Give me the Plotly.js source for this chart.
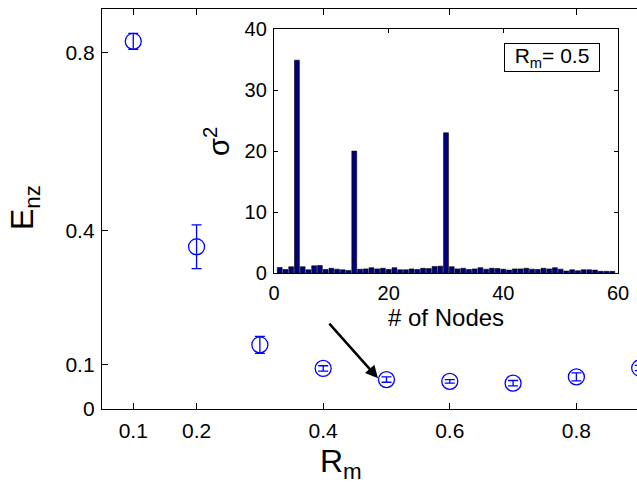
<!DOCTYPE html>
<html>
<head>
<meta charset="utf-8">
<script src="https://cdn.plot.ly/plotly-3.0.1.min.js"></script>
<style>html,body{margin:0;padding:0;background:#fff;overflow:hidden;}#chart{width:645px;height:489px;}</style>
</head>
<body>
<div id="chart"></div>
<script>
// Main plot data: Rm vs E_nz with error bars
const rmValues = [0.1, 0.2, 0.3, 0.4, 0.5, 0.6, 0.7, 0.8, 0.9];
const enzValues = [0.825, 0.364, 0.144, 0.091, 0.066, 0.062, 0.058, 0.072, 0.092];
const enzErrors = [0.018, 0.049, 0.019, 0.006, 0.006, 0.004, 0.006, 0.009, 0.006];
const mainXTicks = [0.1, 0.2, 0.4, 0.6, 0.8];
const mainXTickText = ['0.1', '0.2', '0.4', '0.6', '0.8'];
const mainYTicks = [0, 0.1, 0.4, 0.8];
const mainYTickText = ['0', '0.1', '0.4', '0.8'];

// Inset data: variance per node for Rm = 0.5
const nodeIndex = [];
for (let i = 1; i <= 59; i++) nodeIndex.push(i);
const sigma2Values = [
  0.93, 0.6, 1.05, 34.9, 1.05, 0.55, 1.2, 1.25, 0.6, 0.8,
  0.65, 0.55, 0.45, 20.0, 0.65, 0.7, 0.9, 0.7, 0.8, 0.6,
  0.9, 0.55, 0.55, 0.7, 0.6, 0.8, 0.75, 1.1, 1.15, 23.0,
  1.05, 0.7, 0.8, 0.6, 0.7, 0.9, 0.65, 0.8, 0.75, 0.65,
  0.5, 0.7, 0.7, 0.8, 0.65, 0.6, 0.8, 0.7, 0.9, 0.65,
  0.35, 0.55, 0.4, 0.55, 0.55, 0.5, 0.3, 0.3, 0.3
];
const insetXTicks = [0, 20, 40, 60];
const insetYTicks = [0, 10, 20, 30, 40];

const FONT = 'Liberation Sans, Arial, Helvetica, sans-serif';

// plot area spans 102..645 px (543 px); page window cuts at 637
const traces = [
  {
    type: 'scatter', mode: 'markers',
    x: rmValues, y: enzValues,
    xaxis: 'x', yaxis: 'y',
    cliponaxis: false,
    marker: {symbol: 'circle-open', size: 16, color: '#0000ff', line: {width: 1.3, color: '#0000ff'}},
    error_y: {type: 'data', array: enzErrors, visible: true, color: '#0000ff', thickness: 1.3, width: 5},
    showlegend: false, hoverinfo: 'x+y'
  },
  {
    type: 'bar',
    x: nodeIndex, y: sigma2Values,
    xaxis: 'x2', yaxis: 'y2',
    width: 0.85,
    marker: {color: '#00007f', line: {color: '#000000', width: 0.6}},
    showlegend: false
  }
];

const axisCommon = {
  showgrid: false, zeroline: false, showline: true, linecolor: '#000', linewidth: 1.2,
  ticks: 'inside', tickcolor: '#000', tickwidth: 1, color: '#000'
};

// inset domain in paper fraction of the 543 px plot width
const W = 543;
const insetX0 = (274 - 102) / W, insetX1 = (618 - 102) / W;

const layout = {
  width: 645, height: 489,
  margin: {l: 102, r: 0, t: 9, b: 80, pad: 0},
  paper_bgcolor: '#fff', plot_bgcolor: '#fff',
  font: {family: FONT, color: '#000'},
  showlegend: false,
  bargap: 0,
  xaxis: Object.assign({}, axisCommon, {
    domain: [0, 1], range: [0.0506, 0.9084], mirror: 'ticks',
    tickvals: mainXTicks, ticktext: mainXTickText, ticklen: 6,
    tickfont: {size: 21, family: FONT}, ticklabelstandoff: 3, anchor: 'y'
  }),
  yaxis: Object.assign({}, axisCommon, {
    domain: [0, 1], range: [0, 0.8975], mirror: false,
    tickvals: mainYTicks, ticktext: mainYTickText, ticklen: 6,
    tickfont: {size: 21, family: FONT}, ticklabelstandoff: 2, anchor: 'x'
  }),
  xaxis2: Object.assign({}, axisCommon, {
    domain: [insetX0, insetX1], range: [0, 60], mirror: 'ticks',
    tickvals: insetXTicks, ticklen: 4,
    tickfont: {size: 20, family: FONT}, ticklabelstandoff: 2, anchor: 'y2'
  }),
  yaxis2: Object.assign({}, axisCommon, {
    domain: [0.3396, 0.9499], range: [0, 40], mirror: 'ticks',
    tickvals: insetYTicks, ticklen: 4,
    tickfont: {size: 20, family: FONT}, ticklabelstandoff: 2, anchor: 'x2'
  }),
  annotations: [
    {xref: 'paper', yref: 'paper', x: (24 - 102) / W, y: 0.5025, text: 'E<sub>nz</sub>', showarrow: false,
     textangle: -90, font: {size: 32, family: FONT, color: '#000'}, xanchor: 'center', yanchor: 'middle'},
    {xref: 'paper', yref: 'paper', x: (341 - 102) / W, y: -0.135, text: 'R<sub>m</sub>', showarrow: false,
     font: {size: 32, family: FONT, color: '#000'}, xanchor: 'center', yanchor: 'middle'},
    {xref: 'paper', yref: 'paper', x: (217 - 102) / W, y: 0.6675, text: 'σ<sup>2</sup>', showarrow: false,
     textangle: -90, font: {size: 29, family: FONT, color: '#000'}, xanchor: 'center', yanchor: 'middle'},
    {xref: 'paper', yref: 'paper', x: (446 - 102) / W, y: 0.23, text: '# of Nodes', showarrow: false,
     font: {size: 24, family: FONT, color: '#000'}, xanchor: 'center', yanchor: 'middle'},
    {xref: 'x2', yref: 'y2', x: 48.5, y: 35.3, text: 'R<sub>m</sub>= 0.5', showarrow: false,
     font: {size: 21, family: FONT, color: '#000'}, bordercolor: '#000', borderwidth: 1,
     bgcolor: '#fff', width: 92, height: 25, borderpad: 1, xanchor: 'center', yanchor: 'middle'},
    {xref: 'x', yref: 'y', x: 0.4866, y: 0.069, ax: 0.4076, ay: 0.195, axref: 'x', ayref: 'y',
     text: '', showarrow: true, arrowhead: 2, arrowsize: 1, arrowwidth: 2.5, arrowcolor: '#000'}
  ]
};

Plotly.newPlot('chart', traces, layout, {displayModeBar: false, staticPlot: true});
</script>
</body>
</html>
